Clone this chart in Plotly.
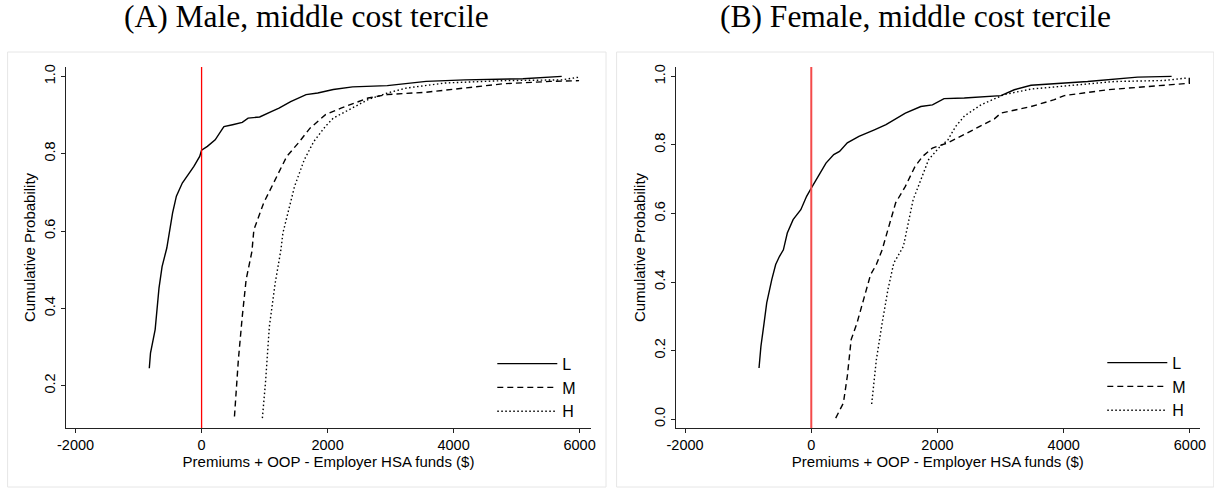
import plotly.graph_objects as go

# ---------------- data ----------------
A_L_x = [-830, -811, -737, -676, -627, -565, -552, -460, -400, -306, -122, -30, 0, 92, 216, 338, 355, 492, 646, 738, 922, 1106, 1229, 1414, 1659, 1844, 2090, 2397, 2948, 3565, 4179, 5100, 5716]
A_L_y = [0.245, 0.284, 0.345, 0.452, 0.508, 0.552, 0.556, 0.647, 0.690, 0.724, 0.767, 0.793, 0.809, 0.819, 0.836, 0.866, 0.870, 0.875, 0.881, 0.892, 0.895, 0.909, 0.918, 0.935, 0.953, 0.957, 0.966, 0.973, 0.976, 0.987, 0.991, 0.994, 1.0]

A_M_x = [522, 584, 646, 707, 799, 830, 984, 1168, 1352, 1537, 1721, 1967, 2213, 2643, 2949, 3565, 4179, 4794, 5530, 5992]
A_M_y = [0.120, 0.267, 0.379, 0.474, 0.547, 0.603, 0.672, 0.733, 0.793, 0.828, 0.866, 0.901, 0.918, 0.944, 0.953, 0.959, 0.970, 0.981, 0.987, 0.989]

A_H_x = [965, 1014, 1076, 1168, 1260, 1291, 1475, 1629, 1783, 1967, 2090, 2335, 2643, 2949, 3257, 3871, 4794, 5716, 5992]
A_H_y = [0.116, 0.207, 0.353, 0.465, 0.552, 0.595, 0.715, 0.784, 0.832, 0.871, 0.892, 0.914, 0.940, 0.957, 0.970, 0.983, 0.989, 0.991, 0.998]

B_L_x = [-828, -798, -748, -706, -626, -564, -503, -442, -380, -288, -166, -74, 0, 110, 233, 356, 448, 571, 755, 1000, 1184, 1491, 1736, 1920, 2104, 2425, 3006, 3217, 3482, 4379, 5171, 5710]
B_L_y = [0.149, 0.212, 0.280, 0.339, 0.407, 0.451, 0.475, 0.494, 0.543, 0.582, 0.611, 0.650, 0.674, 0.708, 0.747, 0.772, 0.781, 0.806, 0.825, 0.844, 0.859, 0.893, 0.912, 0.917, 0.935, 0.937, 0.944, 0.961, 0.974, 0.985, 0.998, 1.0]

B_M_x = [387, 509, 571, 632, 724, 847, 939, 1031, 1123, 1215, 1337, 1491, 1644, 1767, 1920, 2166, 2420, 2656, 2902, 3006, 3482, 3851, 4010, 4696, 5330, 5938, 5990, 5990]
B_M_y = [0.003, 0.047, 0.125, 0.232, 0.280, 0.358, 0.421, 0.451, 0.494, 0.553, 0.631, 0.679, 0.737, 0.767, 0.791, 0.806, 0.830, 0.854, 0.876, 0.893, 0.912, 0.932, 0.944, 0.961, 0.971, 0.979, 0.980, 1.0]

B_H_x = [957, 1031, 1123, 1215, 1307, 1429, 1460, 1614, 1736, 1859, 2043, 2166, 2288, 2430, 2689, 3058, 3482, 4274, 4802, 5594, 5938]
B_H_y = [0.044, 0.173, 0.280, 0.378, 0.455, 0.494, 0.504, 0.640, 0.699, 0.757, 0.796, 0.815, 0.854, 0.885, 0.917, 0.947, 0.963, 0.976, 0.985, 0.988, 0.995]

series_names = ["L", "M", "H"]
panel_titles = ["(A) Male, middle cost tercile", "(B) Female, middle cost tercile"]
x_title = "Premiums + OOP - Employer HSA funds ($)"
y_title = "Cumulative Probability"
x_ticks = [-2000, 0, 2000, 4000, 6000]
yA_ticks = [0.2, 0.4, 0.6, 0.8, 1.0]
yB_ticks = [0.0, 0.2, 0.4, 0.6, 0.8, 1.0]

# ---------------- layout geometry ----------------
W, H = 1214, 489
ML, MR, MT, MB = 65.7, 14.3, 67.3, 60.7
PW = W - ML - MR
PH = H - MT - MB


def px2x(p):
    return (p - ML) / PW


def py2y(p):
    return (H - MB - p) / PH


SANS = "Liberation Sans"
SERIF = "Liberation Serif"
dashes = ["solid", "6px,4px", "1.5px,2.5px"]

fig = go.Figure()
panels = [
    ("x", "y", "legend", [(A_L_x, A_L_y), (A_M_x, A_M_y), (A_H_x, A_H_y)]),
    ("x2", "y2", "legend2", [(B_L_x, B_L_y), (B_M_x, B_M_y), (B_H_x, B_H_y)]),
]
for xa, ya, lg, sers in panels:
    for name, (xs, ys), dsh in zip(series_names, sers, dashes):
        fig.add_trace(go.Scatter(
            x=xs, y=ys, mode="lines", name=name, xaxis=xa, yaxis=ya, legend=lg,
            line=dict(color="black", width=1.4, dash=dsh),
            hoverinfo="skip",
        ))

axis_common = dict(
    showgrid=False, zeroline=False, showline=True, linecolor="#222", linewidth=1.2,
    ticks="outside", ticklen=4, tickwidth=1.2, tickcolor="#222",
    tickfont=dict(family=SANS, size=14.5, color="black"),
)
title_font = dict(family=SANS, size=15, color="black")

fig.update_layout(
    width=W, height=H,
    margin=dict(l=ML, r=MR, t=MT, b=MB, autoexpand=False),
    paper_bgcolor="white", plot_bgcolor="white",
    showlegend=True,
    xaxis=dict(domain=[px2x(65.7), px2x(590.7)], range=[-2152, 6181], anchor="y",
               tickvals=x_ticks, ticktext=[str(v) for v in x_ticks], ticklabelstandoff=-1,
               title=dict(text=x_title, font=title_font, standoff=3),
               **axis_common),
    yaxis=dict(domain=[0, 1], range=[0.0903, 1.0243], anchor="x",
               tickvals=yA_ticks, ticktext=[f"{v:.1f}" for v in yA_ticks], tickangle=-90,
               title=dict(text=y_title, font=title_font, standoff=2),
               **axis_common),
    xaxis2=dict(domain=[px2x(675.3), px2x(1199.7)], range=[-2150, 6160], anchor="y2",
                tickvals=x_ticks, ticktext=[str(v) for v in x_ticks], ticklabelstandoff=-1,
                title=dict(text=x_title, font=title_font, standoff=3),
                **axis_common),
    yaxis2=dict(domain=[0, 1], range=[-0.026, 1.0274], anchor="x2",
                tickvals=yB_ticks, ticktext=[f"{v:.1f}" for v in yB_ticks], tickangle=-90,
                title=dict(text=y_title, font=title_font, standoff=2),
                **axis_common),
    legend=dict(x=px2x(492), y=py2y(347), xanchor="left", yanchor="top",
                bgcolor="rgba(0,0,0,0)", borderwidth=0, itemwidth=60,
                font=dict(family=SANS, size=16, color="black"), tracegroupgap=0),
    legend2=dict(x=px2x(1102), y=py2y(346), xanchor="left", yanchor="top",
                 bgcolor="rgba(0,0,0,0)", borderwidth=0, itemwidth=60,
                 font=dict(family=SANS, size=16, color="black"), tracegroupgap=0),
)

# panel frames
for x0, x1 in [(7.3, 605.7), (616.3, 1213.5)]:
    fig.add_shape(type="rect", xref="paper", yref="paper",
                  x0=px2x(x0), x1=px2x(x1), y0=py2y(487.3), y1=py2y(52.3),
                  line=dict(color="#e6e6e6", width=1), fillcolor="rgba(0,0,0,0)", layer="below")

# red reference line at zero
fig.add_shape(type="line", xref="x", yref="y domain", x0=0, x1=0, y0=0, y1=1,
              line=dict(color="#ff0000", width=1.3))
fig.add_shape(type="line", xref="x2", yref="y2 domain", x0=0, x1=0, y0=0, y1=1,
              line=dict(color="#f44a4a", width=2))

# panel titles
for title, cx in zip(panel_titles, [306.5, 915.0]):
    fig.add_annotation(text=title, xref="paper", yref="paper", x=px2x(cx), y=py2y(17),
                       xanchor="center", yanchor="middle", showarrow=False,
                       font=dict(family=SERIF, size=31.5, color="black"))

fig.write_html("out.html", config={"displayModeBar": False},
               post_script="document.body.style.margin='0';")
